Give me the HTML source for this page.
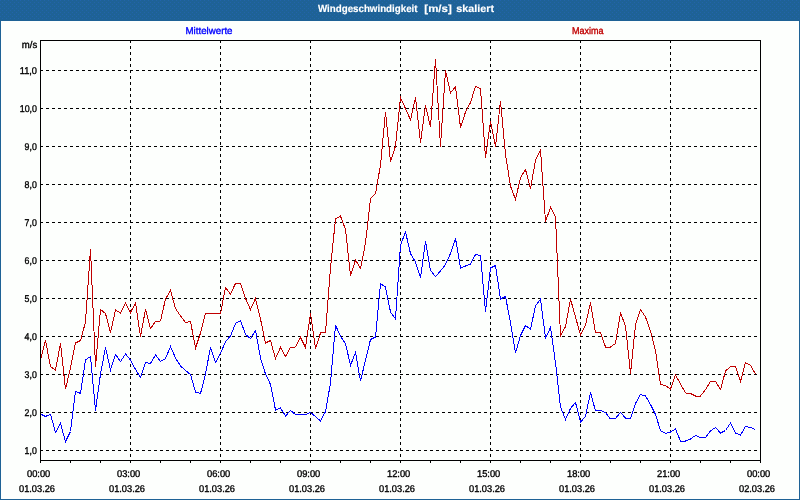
<!DOCTYPE html>
<html lang="de"><head><meta charset="utf-8"><title>Windgeschwindigkeit [m/s] skaliert</title>
<style>
html,body{margin:0;padding:0;}
body{width:800px;height:500px;overflow:hidden;background:#fdfffd;position:relative;font-family:"Liberation Sans",sans-serif;}
#frame{position:absolute;left:0;top:0;width:798px;height:499px;border-left:1px solid #1e6296;border-right:1px solid #1e6296;border-bottom:1px solid #1e6296;}
#titlebar{position:absolute;left:0;top:0;width:800px;height:21px;background:#1e6296;}
svg{position:absolute;left:0;top:0;}
text{font-family:"Liberation Sans",sans-serif;font-size:9.8px;text-rendering:geometricPrecision;fill:#000;stroke:#000;stroke-width:0.35px;}
.t{font-weight:bold;font-size:10.3px;fill:#fff;stroke:#fff;stroke-width:0.15px;}
</style></head><body>
<div id="frame"></div>
<div id="titlebar"></div>
<svg width="800" height="500" viewBox="0 0 800 500">
<defs><pattern id="dz" width="4" height="4" patternUnits="userSpaceOnUse"><rect x="0" y="0" width="1" height="1" fill="#2264aa"/><rect x="2" y="2" width="1" height="1" fill="#2264aa"/></pattern></defs>
<rect x="0" y="0" width="800" height="20" fill="url(#dz)" shape-rendering="crispEdges"/>
<text class="t" y="12.3"><tspan x="318" textLength="99.5" lengthAdjust="spacingAndGlyphs">Windgeschwindigkeit</tspan> <tspan x="424.3" textLength="27.5" lengthAdjust="spacingAndGlyphs">[m/s]</tspan> <tspan x="456.3" textLength="37.7" lengthAdjust="spacingAndGlyphs">skaliert</tspan></text>
<text x="185.5" y="34" textLength="47" lengthAdjust="spacingAndGlyphs" style="fill:#0000ff;stroke:#0000ff">Mittelwerte</text>
<text x="572" y="34" textLength="31.5" lengthAdjust="spacingAndGlyphs" style="fill:#c00000;stroke:#c00000">Maxima</text>
<g shape-rendering="crispEdges" stroke="#000" stroke-width="1" fill="none">
<line x1="40" y1="70.5" x2="760" y2="70.5" stroke-dasharray="3 3"/>
<line x1="40" y1="108.5" x2="760" y2="108.5" stroke-dasharray="3 3"/>
<line x1="40" y1="146.5" x2="760" y2="146.5" stroke-dasharray="3 3"/>
<line x1="40" y1="184.5" x2="760" y2="184.5" stroke-dasharray="3 3"/>
<line x1="40" y1="222.5" x2="760" y2="222.5" stroke-dasharray="3 3"/>
<line x1="40" y1="260.5" x2="760" y2="260.5" stroke-dasharray="3 3"/>
<line x1="40" y1="298.5" x2="760" y2="298.5" stroke-dasharray="3 3"/>
<line x1="40" y1="336.5" x2="760" y2="336.5" stroke-dasharray="3 3"/>
<line x1="40" y1="374.5" x2="760" y2="374.5" stroke-dasharray="3 3"/>
<line x1="40" y1="412.5" x2="760" y2="412.5" stroke-dasharray="3 3"/>
<line x1="40" y1="450.5" x2="760" y2="450.5" stroke-dasharray="3 3"/>
<line x1="130.5" y1="40" x2="130.5" y2="460" stroke-dasharray="3 3"/>
<line x1="220.5" y1="40" x2="220.5" y2="460" stroke-dasharray="3 3"/>
<line x1="310.5" y1="40" x2="310.5" y2="460" stroke-dasharray="3 3"/>
<line x1="400.5" y1="40" x2="400.5" y2="460" stroke-dasharray="3 3"/>
<line x1="490.5" y1="40" x2="490.5" y2="460" stroke-dasharray="3 3"/>
<line x1="580.5" y1="40" x2="580.5" y2="460" stroke-dasharray="3 3"/>
<line x1="670.5" y1="40" x2="670.5" y2="460" stroke-dasharray="3 3"/>
</g>
<polyline shape-rendering="crispEdges" fill="none" stroke="#c00000" stroke-width="1" points="40.5,359.5 45.5,340.5 50.5,366.5 55.5,370 60.5,343.5 65.5,389 70.5,368 75.5,343 80.5,340.5 85.5,322 90.5,249 95.5,366.5 100.5,309.5 105.5,313.5 110.5,332.5 115.5,310 120.5,313 125.5,303 130.5,312.5 135.5,303 140.5,336.5 145.5,309.5 150.5,328.5 155.5,321.5 160.5,321 165.5,299 170.5,290.5 175.5,308.5 180.5,316 185.5,322.5 190.5,321.5 195.5,348 200.5,333 205.5,313.5 210.5,313.5 215.5,313.5 220.5,313.5 225.5,287.5 230.5,294 235.5,283.5 240.5,283.5 245.5,298.5 250.5,309.5 255.5,298.5 260.5,319 265.5,343 270.5,340.5 275.5,358.5 280.5,347.5 285.5,356.5 290.5,347.5 295.5,347 300.5,337.5 305.5,347.5 310.5,313.5 315.5,348.5 320.5,333 325.5,332.5 330.5,268 335.5,219 340.5,216 345.5,229.5 350.5,275.5 355.5,260 360.5,268.5 365.5,243 370.5,198.5 375.5,193.5 380.5,165 385.5,112 390.5,161.5 395.5,146 400.5,97.5 405.5,108.5 410.5,120 415.5,97.5 420.5,142.5 425.5,105.5 430.5,127 435.5,59 440.5,146.5 445.5,70.5 450.5,93 455.5,86.5 460.5,127.5 465.5,112 470.5,102.5 475.5,86.5 480.5,88.5 485.5,157.5 490.5,121.5 495.5,146.5 500.5,101 505.5,154.5 510.5,186 515.5,199.5 520.5,177.5 525.5,169.5 530.5,188.5 535.5,160.5 540.5,150 545.5,221.5 550.5,207.5 555.5,217 560.5,336 565.5,326.5 570.5,299 575.5,317 580.5,335 585.5,325 590.5,302.5 595.5,332.5 600.5,332.5 605.5,347 610.5,347 615.5,343.5 620.5,313 625.5,326 630.5,373.5 635.5,325 640.5,309.5 645.5,317 650.5,331 655.5,351 660.5,384.5 665.5,385.5 670.5,389 675.5,375 680.5,384 685.5,393 690.5,393.5 695.5,396 700.5,396 705.5,389.5 710.5,381.5 715.5,381.5 720.5,389.5 725.5,371 730.5,366.5 735.5,366.5 740.5,381.5 745.5,362.5 750.5,365.5 755.5,374"/>
<polyline shape-rendering="crispEdges" fill="none" stroke="#0000ff" stroke-width="1" points="40.5,414 45.5,416.5 50.5,414.2 55.5,432.5 60.5,423.5 65.5,441.5 70.5,431.5 75.5,391.2 80.5,393.5 85.5,360 90.5,356.5 95.5,410.5 100.5,374 105.5,347.5 110.5,370 115.5,354.5 120.5,361.5 125.5,354 130.5,360 135.5,369.5 140.5,377.5 145.5,362.5 150.5,363.5 155.5,355 160.5,361.5 165.5,358.5 170.5,346.5 175.5,358 180.5,366 185.5,370.5 190.5,374.5 195.5,392 200.5,393.5 205.5,374 210.5,347 215.5,362.5 220.5,353.5 225.5,341.5 230.5,336 235.5,323.5 240.5,320.5 245.5,334.5 250.5,338.5 255.5,330.5 260.5,358 265.5,374 270.5,384.5 275.5,410 280.5,408 285.5,416 290.5,410.5 295.5,414.5 300.5,414.5 305.5,414.5 310.5,412.5 315.5,416.5 320.5,421 325.5,411.5 330.5,383 335.5,325 340.5,336.5 345.5,343.5 350.5,365.5 355.5,352.5 360.5,381 365.5,360 370.5,339.5 375.5,337 380.5,283.5 385.5,287 390.5,312 395.5,319 400.5,245 405.5,232 410.5,253.5 415.5,262 420.5,277.5 425.5,241.5 430.5,270.5 435.5,276.5 440.5,271 445.5,264.5 450.5,253.5 455.5,238.5 460.5,268 465.5,266 470.5,264 475.5,254.5 480.5,255.5 485.5,311.5 490.5,268 495.5,265.5 500.5,299 505.5,296.5 510.5,323 515.5,353 520.5,335.5 525.5,325.5 530.5,329 535.5,306 540.5,299 545.5,338 550.5,327.5 555.5,363 560.5,407 565.5,419.5 570.5,408.5 575.5,402.5 580.5,422 585.5,416.5 590.5,392.5 595.5,411 600.5,410.5 605.5,412.5 610.5,419 615.5,418.5 620.5,412.5 625.5,418 630.5,419 635.5,403.5 640.5,394.5 645.5,396 650.5,404.5 655.5,414.5 660.5,430.5 665.5,433.5 670.5,432 675.5,429 680.5,441 685.5,441 690.5,439 695.5,435.5 700.5,437.5 705.5,437.5 710.5,431 715.5,427.5 720.5,433 725.5,430.5 730.5,423 735.5,433 740.5,435 745.5,426.5 750.5,427.5 755.5,429.5"/>
<g shape-rendering="crispEdges" stroke="#000" stroke-width="1" fill="none">
<rect x="40.5" y="40.5" width="720" height="420"/>
<line x1="40.5" y1="461" x2="40.5" y2="463"/>
<line x1="70.5" y1="461" x2="70.5" y2="463"/>
<line x1="100.5" y1="461" x2="100.5" y2="463"/>
<line x1="130.5" y1="461" x2="130.5" y2="463"/>
<line x1="160.5" y1="461" x2="160.5" y2="463"/>
<line x1="190.5" y1="461" x2="190.5" y2="463"/>
<line x1="220.5" y1="461" x2="220.5" y2="463"/>
<line x1="250.5" y1="461" x2="250.5" y2="463"/>
<line x1="280.5" y1="461" x2="280.5" y2="463"/>
<line x1="310.5" y1="461" x2="310.5" y2="463"/>
<line x1="340.5" y1="461" x2="340.5" y2="463"/>
<line x1="370.5" y1="461" x2="370.5" y2="463"/>
<line x1="400.5" y1="461" x2="400.5" y2="463"/>
<line x1="430.5" y1="461" x2="430.5" y2="463"/>
<line x1="460.5" y1="461" x2="460.5" y2="463"/>
<line x1="490.5" y1="461" x2="490.5" y2="463"/>
<line x1="520.5" y1="461" x2="520.5" y2="463"/>
<line x1="550.5" y1="461" x2="550.5" y2="463"/>
<line x1="580.5" y1="461" x2="580.5" y2="463"/>
<line x1="610.5" y1="461" x2="610.5" y2="463"/>
<line x1="640.5" y1="461" x2="640.5" y2="463"/>
<line x1="670.5" y1="461" x2="670.5" y2="463"/>
<line x1="700.5" y1="461" x2="700.5" y2="463"/>
<line x1="730.5" y1="461" x2="730.5" y2="463"/>
<line x1="760.5" y1="461" x2="760.5" y2="463"/>
</g>
<text x="21.8" y="48" textLength="15.4" lengthAdjust="spacingAndGlyphs">m/s</text>
<text x="19.7" y="74" textLength="17.3" lengthAdjust="spacingAndGlyphs">11,0</text>
<text x="19.7" y="112" textLength="17.3" lengthAdjust="spacingAndGlyphs">10,0</text>
<text x="24.6" y="150" textLength="12.2" lengthAdjust="spacingAndGlyphs">9,0</text>
<text x="24.6" y="188" textLength="12.2" lengthAdjust="spacingAndGlyphs">8,0</text>
<text x="24.6" y="226" textLength="12.2" lengthAdjust="spacingAndGlyphs">7,0</text>
<text x="24.6" y="264" textLength="12.2" lengthAdjust="spacingAndGlyphs">6,0</text>
<text x="24.6" y="302" textLength="12.2" lengthAdjust="spacingAndGlyphs">5,0</text>
<text x="24.6" y="340" textLength="12.2" lengthAdjust="spacingAndGlyphs">4,0</text>
<text x="24.6" y="378" textLength="12.2" lengthAdjust="spacingAndGlyphs">3,0</text>
<text x="24.6" y="416" textLength="12.2" lengthAdjust="spacingAndGlyphs">2,0</text>
<text x="24.6" y="454" textLength="12.2" lengthAdjust="spacingAndGlyphs">1,0</text>
<text x="27" y="476.8" textLength="23.3" lengthAdjust="spacingAndGlyphs">00:00</text>
<text x="19" y="491.8" textLength="36" lengthAdjust="spacingAndGlyphs">01.03.26</text>
<text x="117" y="476.8" textLength="23.3" lengthAdjust="spacingAndGlyphs">03:00</text>
<text x="109" y="491.8" textLength="36" lengthAdjust="spacingAndGlyphs">01.03.26</text>
<text x="207" y="476.8" textLength="23.3" lengthAdjust="spacingAndGlyphs">06:00</text>
<text x="199" y="491.8" textLength="36" lengthAdjust="spacingAndGlyphs">01.03.26</text>
<text x="297" y="476.8" textLength="23.3" lengthAdjust="spacingAndGlyphs">09:00</text>
<text x="289" y="491.8" textLength="36" lengthAdjust="spacingAndGlyphs">01.03.26</text>
<text x="387" y="476.8" textLength="23.3" lengthAdjust="spacingAndGlyphs">12:00</text>
<text x="379" y="491.8" textLength="36" lengthAdjust="spacingAndGlyphs">01.03.26</text>
<text x="477" y="476.8" textLength="23.3" lengthAdjust="spacingAndGlyphs">15:00</text>
<text x="469" y="491.8" textLength="36" lengthAdjust="spacingAndGlyphs">01.03.26</text>
<text x="567" y="476.8" textLength="23.3" lengthAdjust="spacingAndGlyphs">18:00</text>
<text x="559" y="491.8" textLength="36" lengthAdjust="spacingAndGlyphs">01.03.26</text>
<text x="657" y="476.8" textLength="23.3" lengthAdjust="spacingAndGlyphs">21:00</text>
<text x="649" y="491.8" textLength="36" lengthAdjust="spacingAndGlyphs">01.03.26</text>
<text x="747" y="476.8" textLength="23.3" lengthAdjust="spacingAndGlyphs">00:00</text>
<text x="739" y="491.8" textLength="36" lengthAdjust="spacingAndGlyphs">02.03.26</text>
</svg>
</body></html>
